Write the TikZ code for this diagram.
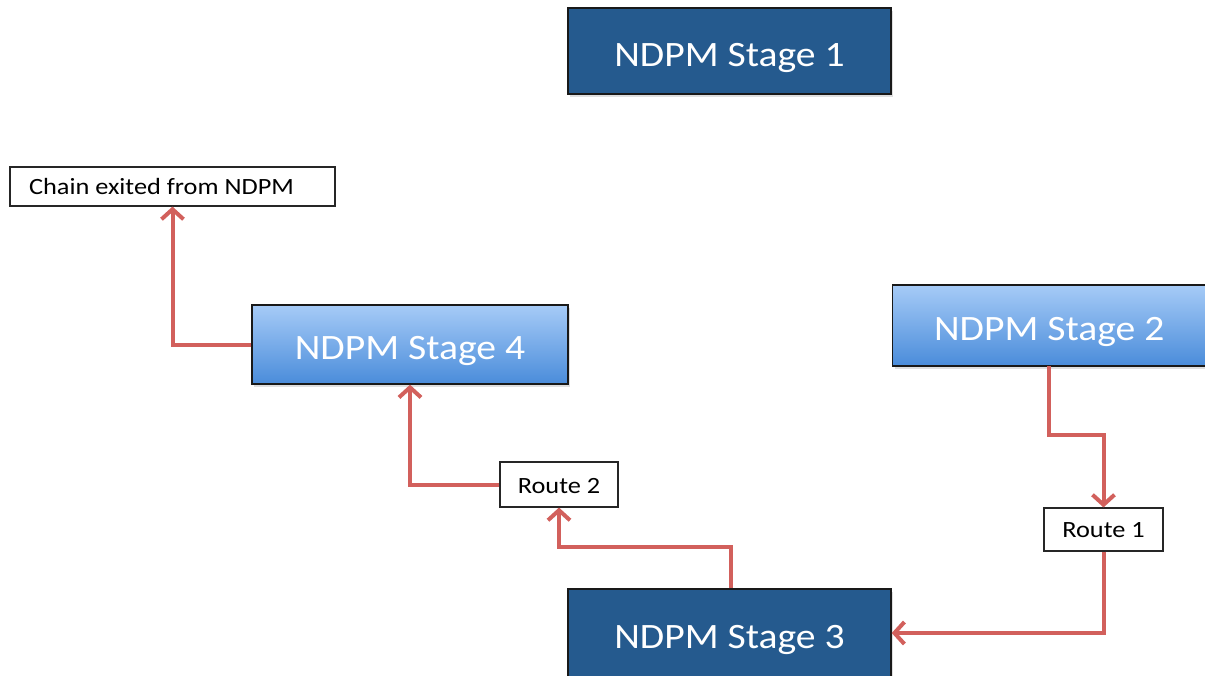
\documentclass[tikz,border=0pt]{standalone}
\usepackage{fontspec}
\usepackage{graphicx}
\setmainfont{Carlito}
\usetikzlibrary{arrows.meta,shadows}
\definecolor{darkstage}{HTML}{255A8E}
\definecolor{lighttop}{HTML}{A6CBF7}
\definecolor{lightbot}{HTML}{4A8CDA}
\definecolor{arrowred}{HTML}{D2605C}
\newcommand\wide[1]{\scalebox{1.11}[1]{#1}}
\newcommand\swide[1]{\scalebox{1.13}[1]{#1}}
\tikzset{
  darkbox/.style={draw=black!90, line width=1.4pt, fill=darkstage, text=white,
    font=\fontsize{35.7}{40}\selectfont, inner sep=0pt, text height=30pt, text depth=0pt,
    drop shadow={shadow xshift=2pt, shadow yshift=-3pt, opacity=0.25}},
  lightbox/.style={draw=black!90, line width=1.4pt, top color=lighttop, bottom color=lightbot,
    text=white, font=\fontsize{35.7}{40}\selectfont, inner sep=0pt, text height=30pt, text depth=0pt,
    drop shadow={shadow xshift=2pt, shadow yshift=-3pt, opacity=0.25}},
  smallbox/.style={draw=black!85, line width=1.1pt, fill=white, text=black,
    font=\fontsize{23.3}{27}\selectfont, inner sep=0pt, text height=15pt, text depth=0pt},
  link/.style={draw=arrowred, line width=4pt, -{Straight Barb[length=10pt,width=22pt]}},
}
\begin{document}
\begin{tikzpicture}[x=1pt,y=-1pt]
\useasboundingbox (0,0) rectangle (1205,675);
\node[darkbox, minimum width=323pt, minimum height=86pt] (s1) at (729.5,51) {\wide{NDPM Stage 1}};
\node[lightbox, minimum width=316pt, minimum height=79pt] (s4) at (410,344.5) {\wide{NDPM Stage 4}};
\node[lightbox, minimum width=320pt, minimum height=81pt, anchor=west] (s2) at (892,325.5) {\hspace*{-7pt}\wide{NDPM Stage 2}};
\node[darkbox, minimum width=323pt, minimum height=88pt] (s3) at (729.5,633) {\wide{NDPM Stage 3}};
\node[smallbox, minimum width=325pt, minimum height=39pt] (chain) at (172.5,186.5) {\hspace*{-22pt}\swide{Chain exited from NDPM}};
\node[smallbox, minimum width=118pt, minimum height=45pt, text height=18pt] (r2) at (559,484.5) {\swide{Route 2}};
\node[smallbox, minimum width=119pt, minimum height=43pt] (r1) at (1103.5,529.5) {\swide{Route 1}};
\coordinate (s2b) at (1048.5,366);
\draw[link] (s4.west) -| (chain.south);
\draw[link] (r2.west) -| (s4.south);
\draw[link] ([xshift=1.5pt]s3.north) -- ++(0,-41) -| (r2.south);
\draw[link] (s2b) -- ++(0,69) -| (r1.north);
\draw[link] (r1.south) |- (s3.east);
\end{tikzpicture}
\end{document}
